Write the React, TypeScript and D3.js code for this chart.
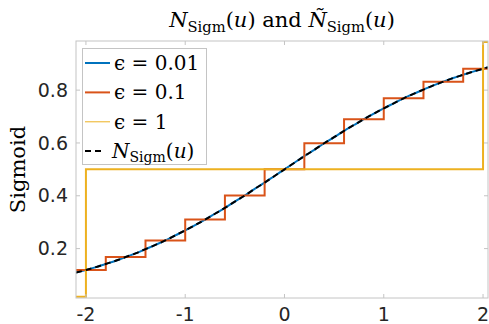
import React from 'react';
import * as d3 from 'd3';

const uGrid = [
  -2.1, -2.0, -1.9, -1.8, -1.7, -1.6, -1.5, -1.4, -1.3, -1.2, -1.1, -1.0, -0.9, -0.8, -0.7, -0.6,
  -0.5, -0.4, -0.3, -0.2, -0.1, 0.0, 0.1, 0.2, 0.3, 0.4, 0.5, 0.6, 0.7, 0.8, 0.9, 1.0, 1.1, 1.2,
  1.3, 1.4, 1.5, 1.6, 1.7, 1.8, 1.9, 2.0, 2.05,
];
const sigmValues = [
  0.109, 0.119, 0.130, 0.142, 0.154, 0.168, 0.182, 0.198, 0.214, 0.231, 0.25, 0.269, 0.289, 0.31,
  0.332, 0.354, 0.378, 0.401, 0.426, 0.45, 0.475, 0.5, 0.525, 0.55, 0.574, 0.599, 0.622, 0.646,
  0.668, 0.69, 0.711, 0.731, 0.75, 0.769, 0.786, 0.802, 0.818, 0.832, 0.846, 0.858, 0.87, 0.881,
  0.886,
];
// eps = 0.01 is indistinguishable from the curve at this size
const eps001Values = sigmValues;

// eps = 0.1 staircase
const eps01U = [-2.1, -1.8, -1.4, -1.0, -0.6, -0.2, 0.2, 0.6, 1.0, 1.4, 1.8, 2.05];
const eps01Values = [0.119, 0.168, 0.231, 0.31, 0.401, 0.5, 0.599, 0.69, 0.769, 0.832, 0.881, 0.881];

// eps = 1 staircase
const eps1U = [-2.1, -2.0, 2.0, 2.05];
const eps1Values = [0.018, 0.5, 0.982, 0.982];

const xTicks = [-2, -1, 0, 1, 2];
const yTicks = [0.2, 0.4, 0.6, 0.8];

const W = 489;
const H = 324;
const margin = { top: 41, right: 1, bottom: 26, left: 76 };

const serif = "'DejaVu Serif', serif";
const sans = "'DejaVu Sans', sans-serif";

const Nsigm = ({ tilde = false, size }: { tilde?: boolean; size: number }) => (
  <>
    <tspan fontStyle="italic">{tilde ? 'Ñ' : 'N'}</tspan>
    <tspan fontSize={size * 0.7} dy={size * 0.22}>Sigm</tspan>
    <tspan dy={-size * 0.22}>(</tspan>
    <tspan fontStyle="italic">u</tspan>
    <tspan>)</tspan>
  </>
);

const App = () => {
  const x = d3.scaleLinear().domain([-2.1, 2.05]).range([margin.left, W - margin.right]);
  const y = d3.scaleLinear().domain([0.013, 0.986]).range([H - margin.bottom, margin.top]);

  const pts = (us: number[], vs: number[]) => us.map((u, i) => [u, vs[i]] as [number, number]);
  const smooth = d3.line<[number, number]>().x((d) => x(d[0])).y((d) => y(d[1])).curve(d3.curveMonotoneX);
  const step = d3.line<[number, number]>().x((d) => x(d[0])).y((d) => y(d[1])).curve(d3.curveStepAfter);

  const [x0, x1] = x.range();
  const [y0, y1] = y.range();

  const legend = [
    { label: '0.01', color: '#0072BD', w: 2 },
    { label: '0.1', color: '#D95319', w: 2 },
    { label: '1', color: '#EDB120', w: 1 },
  ];

  return (
    <svg width={W} height={H} style={{ position: 'absolute', left: 0, top: 0 }}>
      <defs>
        <clipPath id="plot">
          <rect x={x0} y={y1} width={x1 - x0} height={y0 - y1} />
        </clipPath>
      </defs>
      <rect width={W} height={H} fill="#fff" />

      <g clipPath="url(#plot)" fill="none">
        <path d={smooth(pts(uGrid, eps001Values))!} stroke="#0072BD" strokeWidth={2} />
        <path d={step(pts(eps01U, eps01Values))!} stroke="#D95319" strokeWidth={2} />
        <path d={step(pts(eps1U, eps1Values))!} stroke="#EDB120" strokeWidth={2} />
        <path d={smooth(pts(uGrid, sigmValues))!} stroke="#000" strokeWidth={2} strokeDasharray="6,4" />
      </g>

      {/* axes box */}
      <rect x={x0} y={y1} width={x1 - x0} height={y0 - y1} fill="none" stroke="#c4c4c4" strokeWidth={1} />
      {xTicks.map((t) => (
        <g key={t}>
          <line x1={x(t)} x2={x(t)} y1={y0} y2={y0 - 4} stroke="#c4c4c4" />
          <line x1={x(t)} x2={x(t)} y1={y1} y2={y1 + 4} stroke="#c4c4c4" />
          <text x={x(t)} y={321} textAnchor="middle" fontFamily={sans} fontSize={19} fill="#262626">
            {t}
          </text>
        </g>
      ))}
      {yTicks.map((t) => (
        <g key={t}>
          <line x1={x0} x2={x0 + 4} y1={y(t)} y2={y(t)} stroke="#c4c4c4" />
          <line x1={x1} x2={x1 - 4} y1={y(t)} y2={y(t)} stroke="#c4c4c4" />
          <text x={68} y={y(t)} dy="0.35em" textAnchor="end" fontFamily={sans} fontSize={19} fill="#262626">
            {t.toFixed(1)}
          </text>
        </g>
      ))}

      {/* title */}
      <text x={(x0 + x1) / 2} y={27} textAnchor="middle" fontFamily={serif} fontSize={21} fill="#000">
        <Nsigm size={21} />
        <tspan> and </tspan>
        <Nsigm size={21} tilde />
      </text>

      {/* y label */}
      <text
        transform={`translate(25,${(y0 + y1) / 2}) rotate(-90)`}
        textAnchor="middle"
        fontFamily={serif}
        fontSize={21}
        fill="#000"
      >
        Sigmoid
      </text>

      {/* legend */}
      <g>
        <rect x={82.5} y={48.5} width={124} height={116} fill="#fff" stroke="#c4c4c4" />
        {legend.map((d, i) => {
          const ly = 63 + i * 29.4;
          return (
            <g key={d.label}>
              <line x1={85} x2={110} y1={ly} y2={ly} stroke={d.color} strokeWidth={d.w} />
              <text x={114} y={ly + 7} fontFamily={serif} fontSize={20} fill="#000">
                <tspan>ϵ</tspan>
                <tspan> = {d.label}</tspan>
              </text>
            </g>
          );
        })}
        <line x1={85} x2={103} y1={151} y2={151} stroke="#000" strokeWidth={2} strokeDasharray="6,4" />
        <text x={112} y={158} fontFamily={serif} fontSize={20} fill="#000">
          <Nsigm size={20} />
        </text>
      </g>
    </svg>
  );
};

export default App;
